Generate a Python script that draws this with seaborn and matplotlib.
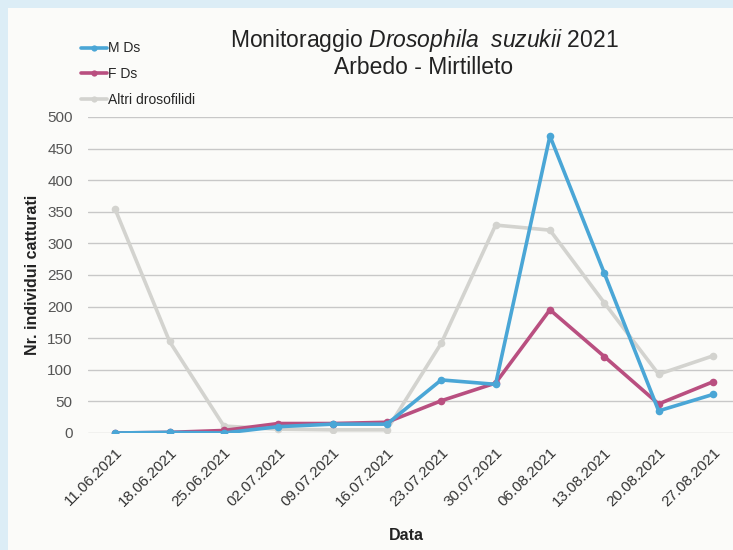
import matplotlib
matplotlib.use("Agg")
import matplotlib.pyplot as plt
import seaborn as sns
import pandas as pd
from matplotlib.lines import Line2D

dates = ["11.06.2021", "18.06.2021", "25.06.2021", "02.07.2021", "09.07.2021", "16.07.2021",
         "23.07.2021", "30.07.2021", "06.08.2021", "13.08.2021", "20.08.2021", "27.08.2021"]
m_ds = [0, 1, 0, 10, 14, 14, 84, 77, 470, 253, 35, 61]
f_ds = [0, 1, 4, 15, 15, 17, 51, 79, 195, 121, 46, 81]
altri = [354, 145, 11, 6, 5, 5, 142, 329, 321, 206, 93, 122]
series_names = ["M Ds", "F Ds", "Altri drosofilidi"]
colors = ["#4aa6d6", "#b94f80", "#d3d3cf"]

rows = []
for name, vals in zip(series_names, [m_ds, f_ds, altri]):
    for i, (d, v) in enumerate(zip(dates, vals)):
        rows.append({"idx": i, "Data": d, "value": v, "serie": name})
df = pd.DataFrame(rows)

sns.set_theme(style="white")
plt.rcParams["font.family"] = ["Liberation Sans", "DejaVu Sans"]
plt.rcParams["mathtext.fontset"] = "custom"
plt.rcParams["mathtext.it"] = "Liberation Sans:italic"
plt.rcParams["mathtext.rm"] = "Liberation Sans"

fig = plt.figure(figsize=(7.33, 5.5), dpi=100)
fig.patch.set_facecolor("#dcedf6")
# paper inner area
fig.add_artist(plt.Rectangle((8 / 733, 0), 1, 1 - 8 / 550, transform=fig.transFigure,
                             facecolor="#fbfbf9", edgecolor="none", zorder=0))

ax = fig.add_axes([88 / 733, 1 - 433 / 550, (733 - 88) / 733, (433 - 117) / 550])
ax.set_facecolor("none")

plot_order = ["Altri drosofilidi", "F Ds", "M Ds"]
pal = dict(zip(series_names, colors))
for name in plot_order:
    sub = df[df["serie"] == name]
    sns.lineplot(data=sub, x="idx", y="value", ax=ax, color=pal[name], linewidth=2.6,
                 marker="o", markersize=5.5, markeredgewidth=0, legend=False)

ax.set_xlim(-0.5, (733 - 115) / 54.36)
ax.set_ylim(0, 500)
ax.set_yticks(range(0, 501, 50))
ax.set_xticks(range(len(dates)))
ax.set_xticklabels(dates, rotation=45, ha="right", rotation_mode="anchor", fontsize=11, color="#333333")
ax.tick_params(axis="y", labelsize=11, labelcolor="#555555", length=0, pad=11)
ax.tick_params(axis="x", length=0, pad=9)
ax.yaxis.grid(True, color="#c8c8c8", linewidth=1.0)
ax.xaxis.grid(False)
for s in ax.spines.values():
    s.set_visible(False)
ax.set_xlabel("")
ax.set_ylabel("")

fig.text(33 / 733, 1 - 275 / 550, "Nr. individui catturati", rotation=90, ha="center", va="center",
         fontsize=11.5, fontweight="bold", color="#222222")
fig.text(406 / 733, 1 - 536 / 550, "Data", ha="center", va="center", fontsize=11.5,
         fontweight="bold", color="#222222")

fig.text(424 / 733, 1 - 41 / 550, r"Monitoraggio $\it{Drosophila\ \ suzukii}$ 2021", ha="center",
         va="center", fontsize=16.5, color="#222222")
fig.text(424 / 733, 1 - 68 / 550, "Arbedo - Mirtilleto", ha="center", va="center", fontsize=16.5,
         color="#222222")

handles = [Line2D([0], [0], color=c, linewidth=2.6, marker="o", markersize=4.5, markeredgewidth=0)
           for c in colors]
fig.legend(handles, series_names, loc="upper left", bbox_to_anchor=(68 / 733, 1 - 29 / 550),
           frameon=False, fontsize=10, handlelength=1.9, handletextpad=0.1, labelspacing=0.85)

fig.savefig("out.png", dpi=100, facecolor=fig.get_facecolor())
